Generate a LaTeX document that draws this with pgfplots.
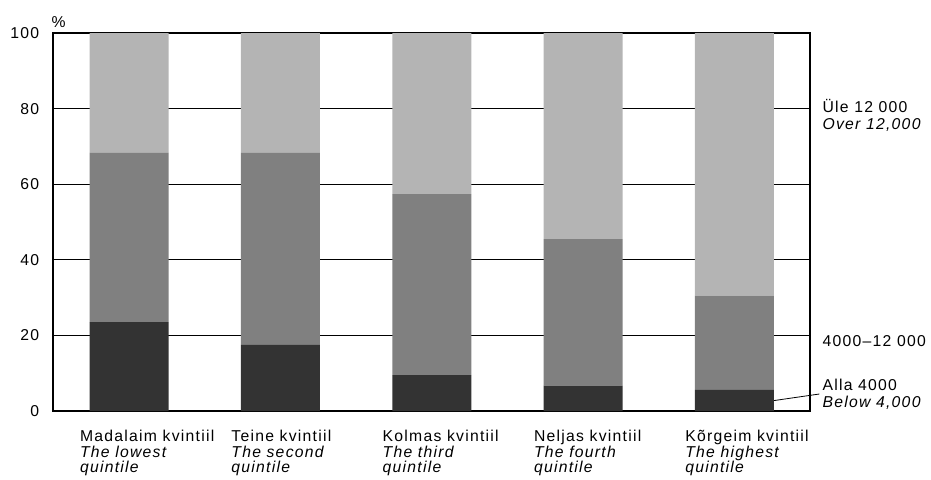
\documentclass[border=0pt]{standalone}
\usepackage{pgfplots}
\pgfplotsset{compat=1.18}
\usepackage{fontspec}
\setmainfont[LetterSpace=8]{Liberation Sans}
\definecolor{cdark}{HTML}{333333}
\definecolor{cmid}{HTML}{808080}
\definecolor{clight}{HTML}{B4B4B4}
\tikzset{rlab/.style={anchor=base west, inner sep=0pt, font=\fontsize{11.8}{12}\selectfont, xshift=9.2pt}}
\begin{document}
\begin{tikzpicture}
\begin{axis}[
  scale only axis,
  width=567.4pt, height=283.5pt,
  ybar stacked,
  bar width=0.522,
  xmin=-0.5, xmax=4.5,
  ymin=0, ymax=100,
  xtick=data,
  ytick={0,20,40,60,80,100},
  xticklabels={
    {Madalaim kvintiil\\\textit{The lowest}\\\textit{quintile}},
    {Teine kvintiil\\\textit{The second}\\\textit{quintile}},
    {Kolmas kvintiil\\\textit{The third}\\\textit{quintile}},
    {Neljas kvintiil\\\textit{The fourth}\\\textit{quintile}},
    {Kõrgeim kvintiil\\\textit{The highest}\\\textit{quintile}}},
  xticklabel style={anchor=north west, align=left, inner sep=0pt,
    font=\fontsize{11.8}{11.6}\selectfont, xshift=-37pt, yshift=-14.3pt},
  yticklabel style={anchor=east, inner sep=0pt, xshift=-10.6pt,
    font=\fontsize{11.8}{12}\selectfont},
  /pgf/number format/assume math mode=true,
  major tick length=0pt,
  ymajorgrids,
  major grid style={black, line width=0.6pt},
  axis line style={line width=1.5pt},
  clip=false,
]
\addplot[fill=cdark, draw=none] coordinates {(0,23.5) (1,17.5) (2,9.5) (3,6.7) (4,5.6)};
\addplot[fill=cmid, draw=none] coordinates {(0,44.8) (1,50.8) (2,47.9) (3,38.8) (4,24.9)};
\addplot[fill=clight, draw=none] coordinates {(0,31.7) (1,31.7) (2,42.6) (3,54.5) (4,69.5)};
\node[anchor=base west, inner sep=0pt, font=\fontsize{11.8}{12}\selectfont, yshift=4.5pt, xshift=-1.5pt] at (rel axis cs:0,1) {\%};
\node[rlab] at (rel axis cs:1,0.790) {Üle 12 000};
\node[rlab] at (rel axis cs:1,0.745) {\textit{Over 12,000}};
\node[rlab] at (rel axis cs:1,0.170) {4000–12 000};
\node[rlab] at (rel axis cs:1,0.0556) {Alla 4000};
\node[rlab] at (rel axis cs:1,0.0106) {\textit{Below 4,000}};
\draw[black, line width=0.6pt] (axis cs:4.25,2.7) -- (axis cs:4.561,4.5);
\end{axis}
\pgfresetboundingbox
\path (-40.1pt,-51pt) rectangle (658.1pt,308.25pt);
\end{tikzpicture}
\end{document}
